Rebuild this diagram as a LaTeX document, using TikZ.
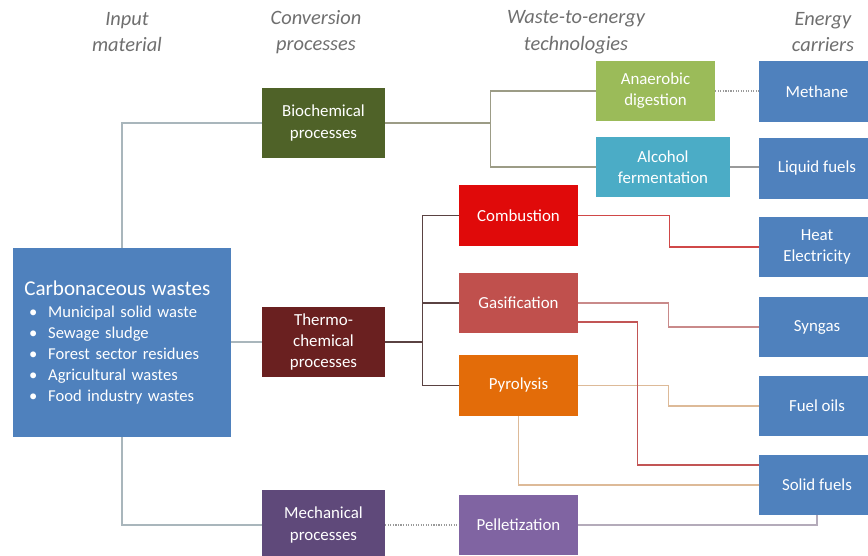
\documentclass[tikz,border=0pt]{standalone}
\usepackage{fontspec}
\setmainfont{Carlito}
\usepackage{tikz}
\usetikzlibrary{calc}

\definecolor{carbblue}{HTML}{4F81BD}
\definecolor{biogreen}{HTML}{4F6228}
\definecolor{thermored}{HTML}{6A2020}
\definecolor{mechpurple}{HTML}{5F497A}
\definecolor{anaergreen}{HTML}{9BBB59}
\definecolor{alcteal}{HTML}{4BACC6}
\definecolor{combred}{HTML}{E00A0A}
\definecolor{gasred}{HTML}{C0504D}
\definecolor{pyroorange}{HTML}{E36C09}
\definecolor{pellpurple}{HTML}{8064A2}
\definecolor{headgray}{HTML}{6F6F6F}
\definecolor{inline}{HTML}{A9B6BC}
\definecolor{bioline}{HTML}{9C9C86}
\definecolor{thermoline}{HTML}{5A4242}
\definecolor{combline}{HTML}{D04848}
\definecolor{gasline}{HTML}{C98A8A}
\definecolor{gasdark}{HTML}{C25555}
\definecolor{pyroline}{HTML}{DDBA98}
\definecolor{pellline}{HTML}{B4ABBA}
\definecolor{plainline}{HTML}{9A9A9A}

\newcommand{\wasteitem}[1]{\hspace*{3.5pt}\makebox[13.5pt][l]{\textbullet}#1}

\tikzset{
  box/.style={text=white, align=center, inner sep=2pt,
    font=\fontsize{12}{15}\selectfont},
  convbox/.style={box, minimum width=3.075cm, minimum height=1.75cm},
  techbox/.style={box, minimum width=2.975cm, minimum height=1.5cm},
  carrierbox/.style={box, fill=carbblue, minimum width=2.9cm, minimum height=1.5cm},
  link/.style={line width=0.8pt},
  head/.style={font=\fontsize{14.5}{19}\selectfont\itshape, text=headgray, align=center}
}

\begin{document}
\begin{tikzpicture}[x=0.025cm,y=-0.025cm]
  \useasboundingbox (0,0) rectangle (868,556);
  \clip (0,0) rectangle (868,556);

  % column headings
  \foreach \x/\name/\txt in {127/hinput/Input\\material,
    316/hconv/Conversion\\processes,
    576/hwte/Waste-to-energy\\technologies,
    823/hcarr/Energy\\carriers}
  {
    \node[head] (\name) at (\x,32) {\txt};
  }

  % input material
  \node[fill=carbblue, text=white, text width=139pt, inner xsep=8pt,
    minimum height=4.725cm, align=left,
    font=\fontsize{11.8}{15}\selectfont] (carb) at (122,342.5)
    {{\fontsize{15}{18}\selectfont Carbonaceous wastes}\\[1pt]
     \wasteitem{Municipal solid waste}\\
     \wasteitem{Sewage sludge}\\
     \wasteitem{Forest sector residues}\\
     \wasteitem{Agricultural wastes}\\
     \wasteitem{Food industry wastes}};

  % conversion processes
  \node[convbox, fill=biogreen] (bio) at (323.5,123) {Biochemical\\processes};
  \node[convbox, fill=thermored] (thermo) at (323.5,342) {Thermo-\\chemical\\processes};
  \node[convbox, fill=mechpurple] (mech) at (323.5,525) {Mechanical\\processes};

  % waste-to-energy technologies
  \node[techbox, fill=anaergreen] (anaer) at (655.5,91) {Anaerobic\\digestion};
  \node[techbox, fill=alcteal, minimum width=3.35cm] (alc) at (663,167) {Alcohol\\fermentation};
  \node[techbox, fill=combred] (comb) at (518.5,215.5) {Combustion};
  \node[techbox, fill=gasred] (gas) at (518.5,303) {Gasification};
  \node[techbox, fill=pyroorange] (pyro) at (518.5,385.5) {Pyrolysis};
  \node[techbox, fill=pellpurple] (pell) at (518.5,525) {Pelletization};

  % energy carriers
  \foreach \name/\y/\txt in {methane/91.5/Methane,
    liquid/168.5/Liquid fuels,
    heat/247/Heat\\Electricity,
    syngas/327/Syngas,
    fuel/406/Fuel oils,
    solid/485/Solid fuels}
  {
    \node[carrierbox] (\name) at (817,\y) {\txt};
  }

  % input to conversion
  \draw[link, draw=inline] (carb.north) |- (bio.west);
  \draw[link, draw=inline] (thermo.west -| carb.east) -- (thermo.west);
  \draw[link, draw=inline] (carb.south) |- (mech.west);

  % biochemical branch
  \draw[link, draw=bioline] (bio.east) -- ++(105,0) coordinate (bj);
  \draw[link, draw=bioline] (anaer.west) -| (bj) |- (alc.west);
  \draw[link, densely dotted, draw=plainline] (anaer.east) -- (anaer.east -| methane.west);
  \draw[link, draw=plainline] (alc.east) -- (alc.east -| liquid.west);

  % thermochemical branch
  \draw[link, draw=thermoline] (thermo.east) -- ++(37,0) coordinate (tj);
  \draw[link, draw=thermoline] (comb.west) -| (tj) |- (pyro.west);
  \draw[link, draw=thermoline] (gas.west) -- (gas.west -| tj);
  \draw[link, draw=combline] (comb.east) -- ++(91,0) |- (heat.west);
  \draw[link, draw=gasline] (gas.east) -- ++(90,0) |- (syngas.west);
  \draw[link, draw=pyroline] (pyro.east) -- ++(90,0) |- (fuel.west);
  \draw[link, draw=pyroline] (pyro.south) |- (solid.west);
  \draw[link, draw=gasdark] ($(gas.east)+(0,19)$) -- ++(59,0) |- ($(solid.west)+(0,-20)$);

  % mechanical branch
  \draw[link, densely dotted, draw=plainline] (mech.east) -- (pell.west);
  \draw[link, draw=pellline] (pell.east) -| (solid.south);
\end{tikzpicture}
\end{document}
